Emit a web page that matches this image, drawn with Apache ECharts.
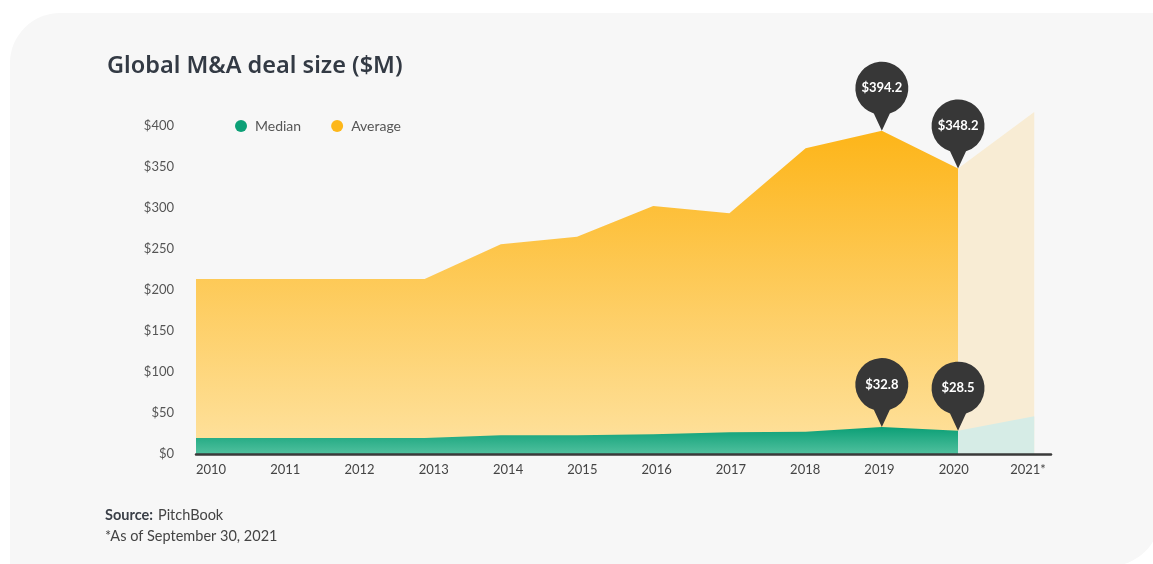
<!DOCTYPE html>
<html>
<head>
<meta charset="utf-8">
<script src="https://cdn.jsdelivr.net/npm/echarts@6/dist/echarts.min.js"></script>
<style>
  html, body { margin: 0; padding: 0; background: #ffffff; width: 1153px; height: 564px; overflow: hidden; }
  #panel { position: absolute; left: 10px; top: 13px; width: 1150px; height: 553px; background: #f7f7f7; border-radius: 50px 0 50px 0; }
  #chart { position: absolute; left: 0; top: 0; width: 1153px; height: 564px; }
</style>
</head>
<body>
<div id="panel"></div>
<div id="chart"></div>
<script>
// ---- data ----
const years = ['2010', '2011', '2012', '2013', '2014', '2015', '2016', '2017', '2018', '2019', '2020', '2021*'];
const averageValues = [213.5, 213.5, 213.5, 213.5, 255.7, 265, 302.4, 293.5, 373, 394.2, 348.2, 417];
const medianValues = [19.5, 19.5, 19.5, 19.5, 23, 23, 24, 26.5, 27, 32.8, 28.5, 46];
const yTicks = [0, 50, 100, 150, 200, 250, 300, 350, 400];
const actualCount = 11; // 2010..2020 are actual, 2021* partial year
const pinYears = [9, 10];

const FONT = 'Lato, "Noto Sans", sans-serif';
const TITLE_FONT = '"Noto Sans", Lato, sans-serif';

function pairs(arr, from, to) {
  const out = [];
  for (let i = from; i <= to; i++) out.push([i, arr[i]]);
  return out;
}

const pinPath = 'path://M26.5,69 L18.5,51.76 A26.5,26.5 0 1,1 34.5,51.76 Z';

function pins(arr) {
  return {
    symbol: pinPath,
    symbolSize: [53, 69],
    symbolOffset: [0, '-50%'],
    itemStyle: { color: '#373737' },
    label: {
      show: true,
      color: '#ffffff',
      fontSize: 13,
      fontWeight: 'bold',
      fontFamily: FONT,
      offset: [0, -8],
      formatter: p => '$' + p.value.toFixed(1)
    },
    data: pinYears.map(i => ({ coord: [i, arr[i]], value: arr[i] }))
  };
}

const chart = echarts.init(document.getElementById('chart'), null, { renderer: 'canvas' });

chart.setOption({
  backgroundColor: 'transparent',
  animation: false,
  title: [
    {
      text: 'Global M&A deal size ($M)',
      left: 107, top: 54, padding: 0,
      textStyle: { fontFamily: TITLE_FONT, fontSize: 23.5, fontWeight: 600, color: '#333a44' }
    },
    {
      text: '{b|Source:} {n|PitchBook}\n{n|*As of September 30, 2021}',
      left: 105, top: 505, padding: 0,
      textStyle: {
        rich: {
          b: { fontFamily: FONT, fontSize: 14.5, fontWeight: 'bold', color: '#3a3f47', lineHeight: 21 },
          n: { fontFamily: FONT, fontSize: 14.5, fontWeight: 'normal', color: '#444444', lineHeight: 21 }
        }
      }
    }
  ],
  legend: {
    data: ['Median', 'Average'],
    left: 235, top: 119, padding: 0,
    icon: 'circle',
    itemWidth: 12, itemHeight: 12,
    itemGap: 30,
    textStyle: { fontFamily: FONT, fontSize: 14, color: '#555555', padding: [0, 0, 0, 3] }
  },
  grid: [
    { left: 196, right: 102, top: 109.6, bottom: 110 },
    { left: 211, right: 125, top: 109.6, bottom: 110 }
  ],
  xAxis: [
    {
      type: 'value', gridIndex: 0, min: 0, max: 11.22, z: 5,
      axisLine: { show: true, lineStyle: { color: '#3a3a3a', width: 2.5 } },
      axisTick: { show: false }, axisLabel: { show: false }, splitLine: { show: false }
    },
    {
      type: 'category', gridIndex: 1, data: years, boundaryGap: false,
      axisLine: { show: false }, axisTick: { show: false }, splitLine: { show: false },
      axisLabel: { fontFamily: FONT, fontSize: 13, color: '#444444', margin: 9, interval: 0 }
    }
  ],
  yAxis: [
    {
      type: 'value', gridIndex: 0, min: 0, max: 420, interval: 50,
      axisLine: { show: false }, axisTick: { show: false }, splitLine: { show: false },
      axisLabel: {
        fontFamily: FONT, fontSize: 13, color: '#555555', margin: 22,
        formatter: v => (yTicks.indexOf(v) >= 0 ? '$' + v : '')
      }
    },
    { type: 'value', gridIndex: 1, min: 0, max: 420, show: false }
  ],
  series: [
    {
      name: 'Average', type: 'line', xAxisIndex: 0, yAxisIndex: 0,
      data: pairs(averageValues, 0, actualCount - 1),
      symbol: 'none', lineStyle: { width: 0 },
      itemStyle: { color: '#fdb71a' },
      areaStyle: {
        opacity: 1,
        color: new echarts.graphic.LinearGradient(0, 0, 0, 1, [
          { offset: 0, color: '#fdb519' },
          { offset: 1, color: '#fee2a0' }
        ])
      },
      markPoint: pins(averageValues)
    },
    {
      name: 'Average 2021', type: 'line', xAxisIndex: 0, yAxisIndex: 0,
      data: pairs(averageValues, actualCount - 1, actualCount),
      symbol: 'none', lineStyle: { width: 0 },
      itemStyle: { color: '#f8ecd4' },
      areaStyle: { opacity: 1, color: '#f8ecd4' }
    },
    {
      name: 'Median', type: 'line', xAxisIndex: 0, yAxisIndex: 0,
      data: pairs(medianValues, 0, actualCount - 1),
      symbol: 'none', lineStyle: { width: 0 },
      itemStyle: { color: '#0da077' },
      areaStyle: {
        opacity: 1,
        color: new echarts.graphic.LinearGradient(0, 0, 0, 1, [
          { offset: 0, color: '#0c9f76' },
          { offset: 1, color: '#50c09e' }
        ])
      },
      markPoint: pins(medianValues)
    },
    {
      name: 'Median 2021', type: 'line', xAxisIndex: 0, yAxisIndex: 0,
      data: pairs(medianValues, actualCount - 1, actualCount),
      symbol: 'none', lineStyle: { width: 0 },
      itemStyle: { color: '#d6ece6' },
      areaStyle: { opacity: 1, color: '#d6ece6' }
    }
  ]
});
</script>
</body>
</html>
